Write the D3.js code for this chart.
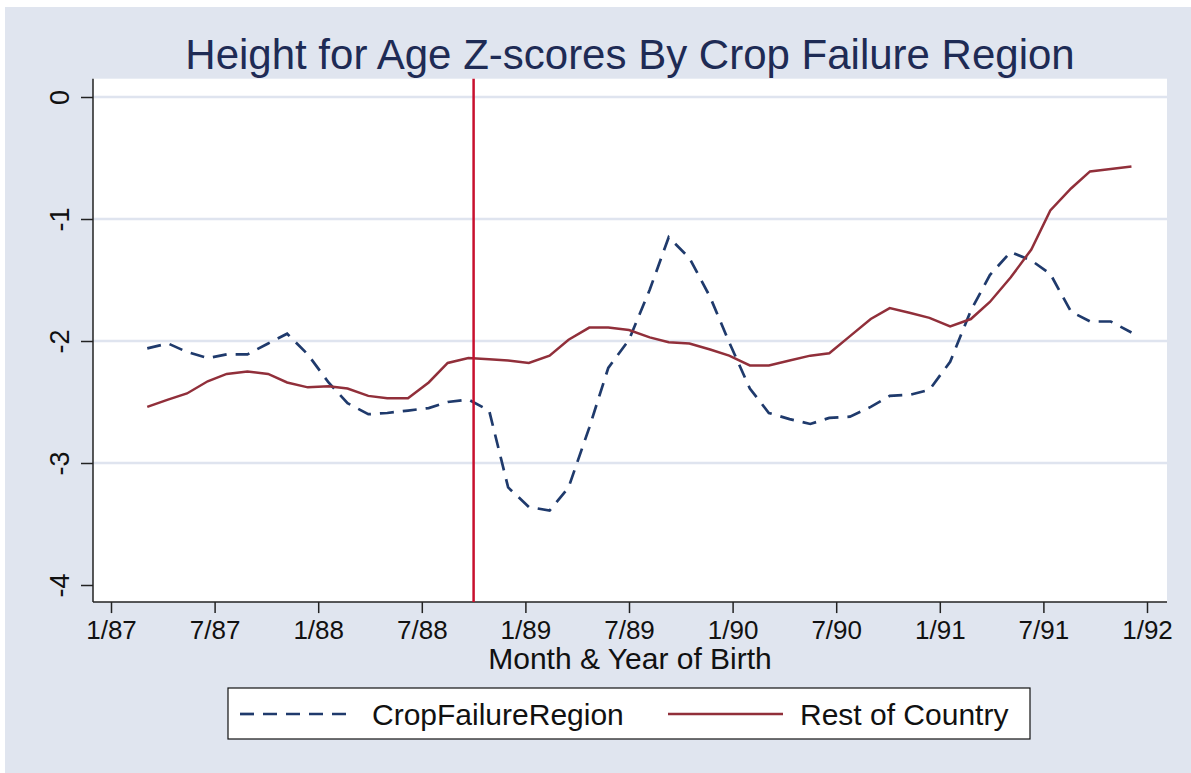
<!DOCTYPE html>
<meta charset="utf-8">
<style>
body { margin: 0; background: #fff; }
svg { display: block; font-family: "Liberation Sans", Arial, sans-serif; }
.grid line { stroke: #dfe4ef; stroke-width: 2.5px; }
.axis path, .axis line { stroke: #222; stroke-width: 1.5px; }
.axis text { fill: #111; }
</style>
<script src="https://d3js.org/d3.v7.min.js"></script>
<body>
<svg id="chart"></svg>
<script>

// months since 1/87 for each birth cohort
var months = [2.1, 3.3, 4.4, 5.6, 6.7, 7.9, 9.1, 10.2, 11.4, 12.6,
	13.7, 14.9, 16.0, 17.2, 18.4, 19.5, 20.7, 21.9, 23.0, 24.2,
	25.4, 26.5, 27.7, 28.8, 30.0, 31.2, 32.3, 33.5, 34.7, 35.8,
	37.0, 38.1, 39.3, 40.5, 41.6, 42.8, 44.0, 45.1, 46.3, 47.4,
	48.6, 49.8, 50.9, 52.1, 53.3, 54.4, 55.6, 56.7, 57.9, 59.1];

var cropFailure = [-2.06, -2.02, -2.09, -2.14, -2.11, -2.11, -2.02, -1.94, -2.11, -2.34,
	-2.51, -2.60, -2.59, -2.57, -2.55, -2.50, -2.48, -2.57, -3.20, -3.36,
	-3.39, -3.20, -2.71, -2.22, -1.99, -1.58, -1.15, -1.32, -1.64, -2.01,
	-2.39, -2.59, -2.64, -2.68, -2.63, -2.62, -2.54, -2.45, -2.44, -2.40,
	-2.17, -1.75, -1.46, -1.27, -1.34, -1.45, -1.76, -1.84, -1.84, -1.93];

var restOfCountry = [-2.54, -2.48, -2.43, -2.33, -2.27, -2.25, -2.27, -2.34, -2.38, -2.37,
	-2.39, -2.45, -2.47, -2.47, -2.34, -2.18, -2.14, -2.15, -2.16, -2.18,
	-2.12, -1.99, -1.89, -1.89, -1.91, -1.97, -2.01, -2.02, -2.07, -2.12,
	-2.20, -2.20, -2.16, -2.12, -2.10, -1.96, -1.82, -1.73, -1.77, -1.81,
	-1.88, -1.82, -1.68, -1.48, -1.25, -0.93, -0.75, -0.61, -0.59, -0.57];

var tickMonths = [0, 6, 12, 18, 24, 30, 36, 42, 48, 54, 60];
var tickLabels = ["1/87", "7/87", "1/88", "7/88", "1/89", "7/89", "1/90", "7/90", "1/91", "7/91", "1/92"];
var yTicks = [0, -1, -2, -3, -4];
var gridTicks = [0, -1, -2, -3];
var cutoffMonth = 21; // 10/88

var seriesNames = ["CropFailureRegion", "Rest of Country"];

var width = 1191,
	height = 773;

var svg = d3.select("#chart")
	.attr("width", width)
	.attr("height", height);

var x = d3.scaleLinear().domain([0, 60]).range([111, 1147]);
var y = d3.scaleLinear().domain([-4, 0]).range([585, 97]);

var plotLeft = 93,
	plotRight = 1167,
	plotTop = y(0.15),
	plotBottom = y(-4.14);

// graph region
svg.append("rect")
	.attr("x", 5).attr("y", 7)
	.attr("width", width - 5).attr("height", height - 7)
	.attr("fill", "#e0e5ef");

svg.append("rect")
	.attr("x", plotLeft).attr("y", plotTop)
	.attr("width", plotRight - plotLeft).attr("height", plotBottom - plotTop)
	.attr("fill", "#fff");

svg.append("g")
	.attr("class", "grid")
	.selectAll("line")
	.data(gridTicks)
	.enter().append("line")
	.attr("x1", plotLeft).attr("x2", plotRight)
	.attr("y1", function(d) { return y(d); })
	.attr("y2", function(d) { return y(d); });

// axes
var yAxis = svg.append("g")
	.attr("class", "axis")
	.attr("transform", "translate(" + plotLeft + ",0)")
	.call(d3.axisLeft(y).tickValues(yTicks).tickSize(12).tickPadding(0)
		.tickFormat(function(d) { return String(d); }));
yAxis.select(".domain").attr("d", "M0," + plotTop + "V" + plotBottom);
yAxis.selectAll("text")
	.attr("font-size", 27)
	.attr("text-anchor", "middle")
	.attr("dy", null)
	.attr("x", null)
	.attr("transform", "translate(-33,0) rotate(-90)")
	.attr("dominant-baseline", "central");

var xAxis = svg.append("g")
	.attr("class", "axis")
	.attr("transform", "translate(0," + plotBottom + ")")
	.call(d3.axisBottom(x).tickValues(tickMonths).tickSize(11).tickPadding(7)
		.tickFormat(function(d, i) { return tickLabels[i]; }));
xAxis.select(".domain").attr("d", "M" + plotLeft + ",0H" + plotRight);
xAxis.selectAll("text").attr("font-size", 26);

svg.append("text")
	.attr("x", (plotLeft + plotRight) / 2)
	.attr("y", 669)
	.attr("text-anchor", "middle")
	.attr("font-size", 30)
	.attr("fill", "#111")
	.text("Month & Year of Birth");

svg.append("text")
	.attr("x", (plotLeft + plotRight) / 2)
	.attr("y", 69)
	.attr("text-anchor", "middle")
	.attr("font-size", 42)
	.attr("fill", "#1e2b55")
	.text("Height for Age Z-scores By Crop Failure Region");

// lines
var line = d3.line()
	.x(function(d) { return x(d[0]); })
	.y(function(d) { return y(d[1]); });

svg.append("path")
	.datum(d3.zip(months, cropFailure))
	.attr("fill", "none")
	.attr("stroke", "#1f3a6c")
	.attr("stroke-width", 2.7)
	.attr("stroke-dasharray", "14,9")
	.attr("d", line);

svg.append("path")
	.datum(d3.zip(months, restOfCountry))
	.attr("fill", "none")
	.attr("stroke", "#912f3a")
	.attr("stroke-width", 2.5)
	.attr("d", line);

svg.append("line")
	.attr("x1", x(cutoffMonth)).attr("x2", x(cutoffMonth))
	.attr("y1", plotTop).attr("y2", plotBottom)
	.attr("stroke", "#c8102e")
	.attr("stroke-width", 2.5);

// legend
var legend = svg.append("g");
legend.append("rect")
	.attr("x", 228).attr("y", 688)
	.attr("width", 802).attr("height", 51)
	.attr("fill", "#fff")
	.attr("stroke", "#111")
	.attr("stroke-width", 1.2);

var legendItems = [
	{ name: seriesNames[0], color: "#1f3a6c", dash: "14,9", x: 240 },
	{ name: seriesNames[1], color: "#912f3a", dash: null, x: 668 }
];

legendItems.forEach(function(d) {
	legend.append("line")
		.attr("x1", d.x).attr("x2", d.x + 115)
		.attr("y1", 714).attr("y2", 714)
		.attr("stroke", d.color)
		.attr("stroke-width", 2.7)
		.attr("stroke-dasharray", d.dash);
	legend.append("text")
		.attr("x", d.x + 132)
		.attr("y", 725)
		.attr("font-size", 30)
		.attr("fill", "#111")
		.text(d.name);
});

</script>
</body>
